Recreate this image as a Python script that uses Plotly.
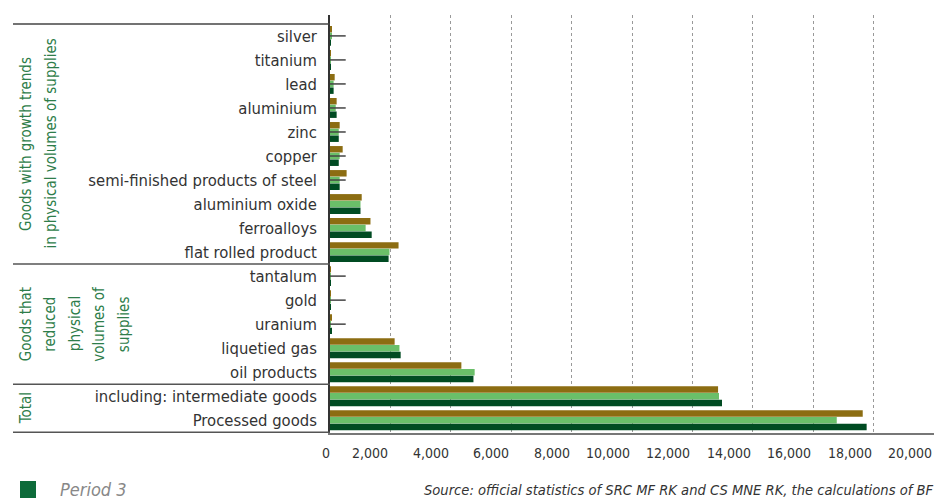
import plotly.graph_objects as go

categories = [
    "silver", "titanium", "lead", "aluminium", "zinc", "copper",
    "semi-finished products of steel", "aluminium oxide", "ferroalloys",
    "flat rolled product",
    "tantalum", "gold", "uranium", "liquetied gas", "oil products",
    "including: intermediate goods", "Processed goods",
]
period1 = [50, 30, 155, 220, 320, 420, 550, 1050, 1340, 2270,
           20, 10, 55, 2140, 4350, 12850, 17640]
period2 = [40, 20, 120, 190, 290, 320, 320, 1010, 1180, 1970,
           30, 5, 20, 2300, 4790, 12880, 16780]
period3 = [20, 20, 120, 220, 290, 290, 320, 1010, 1380, 1940,
           20, 5, 55, 2340, 4750, 12980, 17770]
series_names = ["Period 1", "Period 2", "Period 3"]
series_colors = ["#8c6d12", "#6abf69", "#004b22"]
legend_label = "Period 3"

group_lines = [
    ["Goods with growth trends", "in physical volumes of supplies"],
    ["Goods that", "reduced", "physical", "volumes of", "supplies"],
    ["Total"],
]
group_sizes = [10, 5, 2]
x_ticks = list(range(0, 20001, 2000))
x_ticktext = [f"{v:,}" for v in x_ticks]

FONT = "'Liberation Sans Narrow', 'DejaVu Sans Condensed', 'Roboto Condensed', Roboto, sans-serif"

fig = go.Figure()
for name, vals, col in zip(series_names, [period1, period2, period3], series_colors):
    fig.add_trace(go.Bar(
        y=categories, x=vals, orientation="h", name=name,
        marker=dict(color=col, line=dict(width=0)),
        showlegend=False,
    ))

# short leader stubs at the category centres (as in the original)
stub_x, stub_y = [], []
for c in categories[:7] + categories[10:13]:
    stub_x += [0, 520, None]
    stub_y += [c, c, None]
fig.add_trace(go.Scatter(x=stub_x, y=stub_y, mode="lines",
                         line=dict(color="#444", width=1.5),
                         showlegend=False, hoverinfo="skip"))

L, R, T, B = 330, 2, 15, 69
W, H = 936, 502
pw = W - L - R
ph = H - T - B

def px2x(px):
    return (px - L) / pw

def py2y(py):
    return (H - B - py) / ph

shapes = []
annotations = []
start = -0.5
shapes.append(dict(type="line", xref="paper", yref="y", x0=px2x(13), x1=0,
                   y0=start, y1=start, line=dict(color="#444", width=1.5)))
for lines, n in zip(group_lines, group_sizes):
    end = start + n
    shapes.append(dict(type="line", xref="paper", yref="y", x0=px2x(13), x1=0,
                       y0=end, y1=end, line=dict(color="#555", width=1.5)))
    for i, ln in enumerate(lines):
        annotations.append(dict(text=ln, xref="paper", yref="y",
                                x=px2x(26 + 24.5 * i),
                                y=(start + end) / 2, textangle=-90, showarrow=False,
                                xanchor="center", yanchor="middle",
                                font=dict(family=FONT, size=15, color="#2e7d4a")))
    start = end

# x tick labels, right-aligned to their tick as in the original
for v, t in zip(x_ticks, x_ticktext):
    annotations.append(dict(text=t, xref="x", yref="paper", x=v, y=py2y(453),
                            xanchor="right" if v else "center", yanchor="middle",
                            xshift=0 if v else -4, showarrow=False,
                            font=dict(family=FONT, size=14, color="#333")))

# legend key (only Period 3 visible in the original)
shapes.append(dict(type="rect", xref="paper", yref="paper",
                   x0=px2x(20), x1=px2x(36), y0=py2y(481), y1=py2y(498),
                   fillcolor="#0d6b3a", line=dict(width=0)))
annotations.append(dict(text=legend_label, xref="paper", yref="paper",
                        x=px2x(58), y=py2y(490), xanchor="left", yanchor="middle",
                        showarrow=False,
                        font=dict(family=FONT, size=18, color="#888", style="italic")))

annotations.append(dict(
    text="Source: official statistics of SRC MF RK and CS MNE RK, the calculations of BF",
    xref="paper", yref="paper", x=px2x(422), y=py2y(490), xanchor="left",
    yanchor="middle", showarrow=False,
    font=dict(family=FONT, size=14.6, color="#333", style="italic")))

fig.update_layout(
    width=W, height=H,
    margin=dict(l=L, r=R, t=T, b=B, autoexpand=False),
    paper_bgcolor="white", plot_bgcolor="white",
    barmode="group", bargap=0.16, bargroupgap=0.04,
    font=dict(family=FONT, size=16, color="#333"),
    shapes=shapes, annotations=annotations,
    showlegend=False,
    xaxis=dict(range=[0, 20000], tickvals=x_ticks, showticklabels=False,
               showgrid=True, gridcolor="#999", griddash="dot", gridwidth=1,
               zeroline=False, showline=True, linecolor="#777", linewidth=1.5,
               ticks="", automargin=False),
    yaxis=dict(autorange="reversed", showgrid=False, zeroline=False,
               showline=True, linecolor="#333", linewidth=1.5,
               ticks="", tickfont=dict(family=FONT, size=16.5, color="#333"),
               ticklabelstandoff=8, automargin=False),
)

fig.write_html(
    "out.html",
    config={"displayModeBar": False},
    post_script="document.body.style.margin='0';document.body.style.overflow='hidden';",
)
